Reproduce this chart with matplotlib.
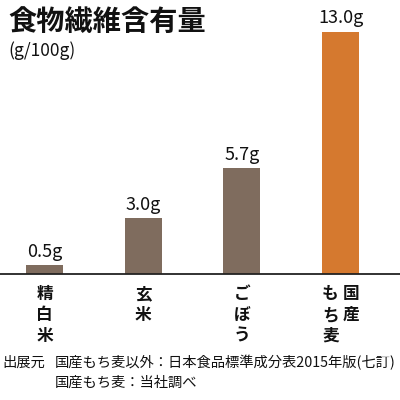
import matplotlib
matplotlib.use("Agg")
import matplotlib.pyplot as plt

plt.rcParams['font.family'] = ['Noto Sans CJK JP', 'DejaVu Sans']

categories = ["精白米", "玄米", "ごぼう", "国産もち麦"]
tick_labels = ["精\n白\n米", "玄\n米", "ご\nぼ\nう", None]
values = [0.5, 3.0, 5.7, 13.0]
value_labels = ["0.5g", "3.0g", "5.7g", "13.0g"]

brown = "#7f6c5e"
orange = "#d5792f"
colors = [brown, brown, brown, orange]

fig = plt.figure(figsize=(4, 4), dpi=100)
ax = fig.add_axes([0.0, 0.315, 1.0, 0.6525])

x = list(range(len(values)))
ax.bar(x, values, width=0.375, color=colors)
ax.set_xlim(-0.451, 3.603)
ax.set_ylim(0, 14)

for xi, v, lab in zip(x, values, value_labels):
    ax.annotate(lab, (xi, v), xytext=(0, 3), textcoords='offset points',
                ha='center', va='bottom', fontsize=13, color='#111111')

for s in ['top', 'left', 'right']:
    ax.spines[s].set_visible(False)
ax.spines['bottom'].set_color('#222222')
ax.spines['bottom'].set_linewidth(1.3)
ax.set_yticks([])
ax.set_xticks([])

# vertical category labels
for xi, lab in zip(x[:3], tick_labels[:3]):
    ax.annotate(lab, (xi, 0), xytext=(0, -8), textcoords='offset points',
                ha='center', va='top', fontsize=12, fontweight='bold',
                linespacing=1.2, color='#111111')
ax.annotate("国\n産", (3, 0), xytext=(7.5, -8), textcoords='offset points',
            ha='center', va='top', fontsize=12, fontweight='bold',
            linespacing=1.2, color='#111111')
ax.annotate("も\nち\n麦", (3, 0), xytext=(-7.5, -8), textcoords='offset points',
            ha='center', va='top', fontsize=12, fontweight='bold',
            linespacing=1.2, color='#111111')

fig.text(0.02, 0.98, "食物繊維含有量", ha='left', va='top',
         fontsize=20.3, fontweight='bold', color='#111111')
fig.text(0.02, 0.897, "(g/100g)", ha='left', va='top',
         fontsize=12.5, color='#111111')

fig.text(0.005, 0.093, "出展元", ha='left', va='center',
         fontsize=10.3, color='#111111')
fig.text(0.137, 0.093, "国産もち麦以外：日本食品標準成分表2015年版(七訂)",
         ha='left', va='center', fontsize=10.3, color='#111111')
fig.text(0.137, 0.043, "国産もち麦：当社調べ", ha='left', va='center',
         fontsize=10.3, color='#111111')

fig.savefig("out.png", dpi=100)
